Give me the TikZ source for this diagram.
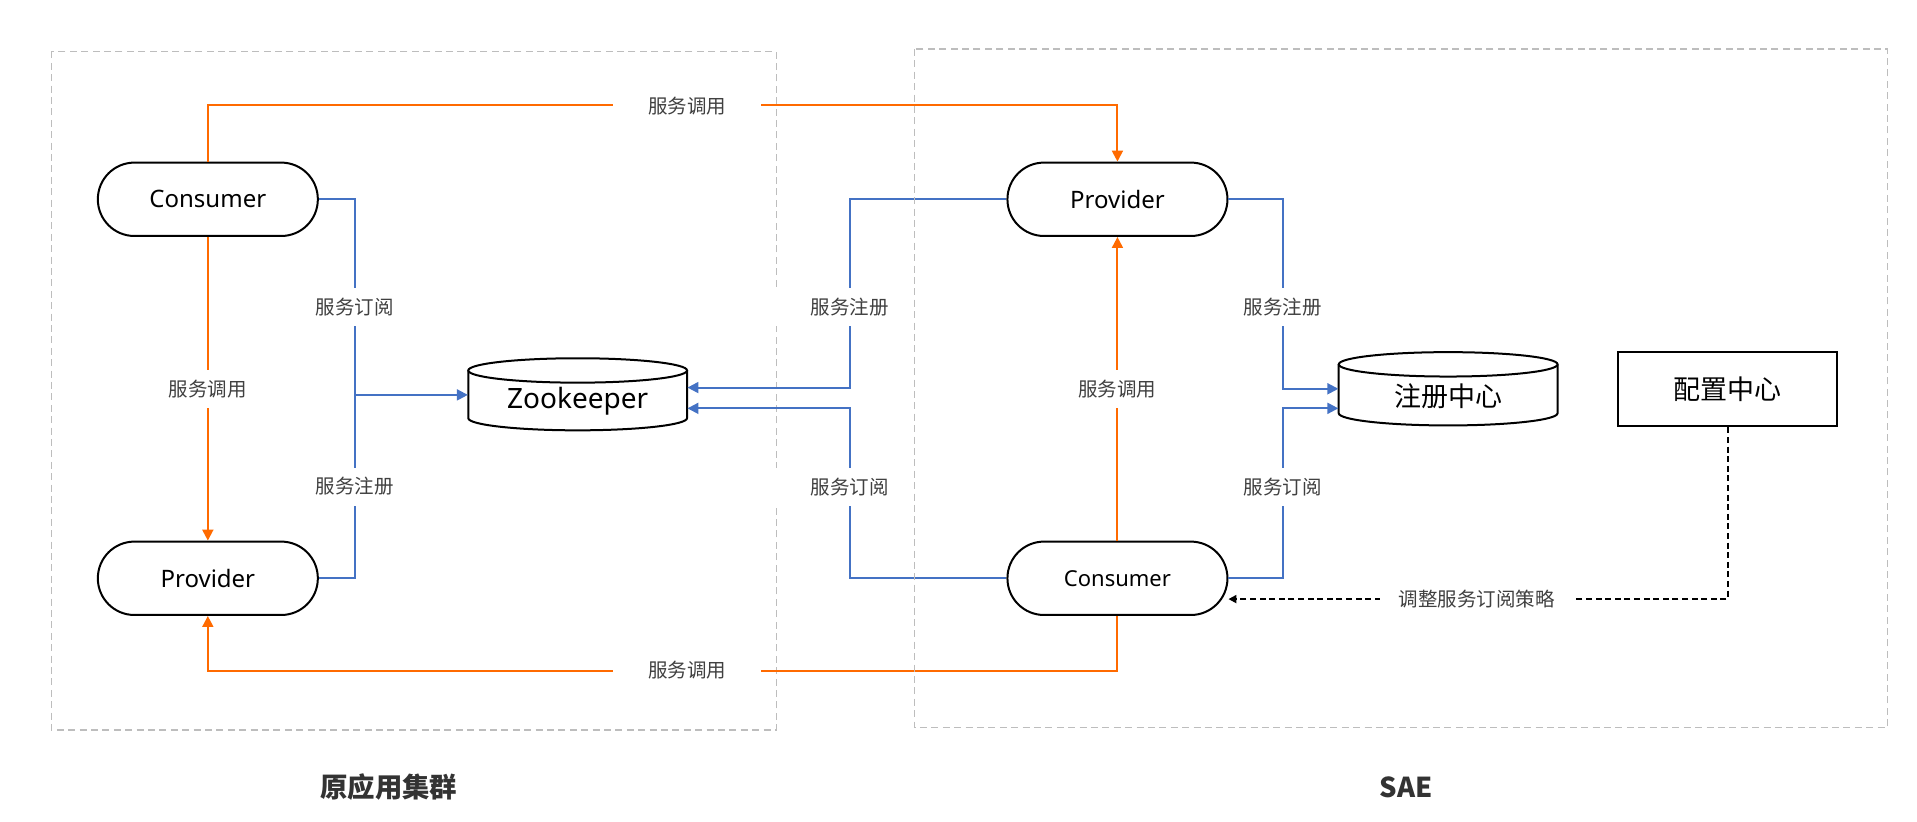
\documentclass[tikz,border=0pt]{standalone}
\usepackage{fontspec}
\setmainfont{Noto Sans}
\newfontfamily\cjk{Noto Sans CJK SC}
\usetikzlibrary{arrows.meta}
\definecolor{orng}{HTML}{FF6A00}
\definecolor{blu}{HTML}{4472C4}
\definecolor{boxgray}{HTML}{BDBDBD}
\definecolor{lbl}{HTML}{404040}
\definecolor{ttl}{HTML}{333333}
\begin{document}
\begin{tikzpicture}[x=0.6113pt,y=-0.6113pt,
  stadium/.style={draw=black, line width=1pt, fill=white, rounded corners=18.3pt,
    minimum width=110pt, minimum height=36.7pt, inner sep=0pt, font=\fontsize{12}{14}\selectfont},
  cylbody/.style={draw=black, line width=1pt, fill=white},
  cylnode/.style={minimum width=109.4pt, minimum height=36pt, inner sep=0pt},
  group/.style={draw=boxgray, line width=0.7pt, dash pattern=on 3.5pt off 2.2pt},
  orline/.style={draw=orng, line width=1pt},
  blline/.style={draw=blu, line width=1pt},
  tip/.style={-{Triangle[length=5.5pt,width=5.5pt]}},
  dshline/.style={draw=black, line width=1pt, dash pattern=on 3pt off 1.8pt},
  lab/.style={fill=white, text=lbl, font=\cjk\fontsize{9.75}{12}\selectfont, inner xsep=17.7pt, inner ysep=5pt},
  title/.style={text=ttl, font=\cjk\bfseries\fontsize{13.7}{16}\selectfont}
]
\useasboundingbox (0,0) rectangle (1568,672);

% left group box
\draw[group] (42,42) rectangle (635,597);

% cylinders
\fill[white] (383,303) rectangle (562,342);
\draw[cylbody] (383,303) -- (383,342) arc[start angle=180,end angle=360,x radius=54.7pt,y radius=6.1pt] -- (562,303);
\draw[cylbody] (472.5,303) ellipse[x radius=54.7pt,y radius=6.1pt];
\node[cylnode] (zk) at (472.5,322.5) {};
\node (zkt) at (472.5,328) {\fontsize{14}{16}\selectfont Zookeeper};

\fill[white] (1095,298) rectangle (1274,338);
\draw[cylbody] (1095,298) -- (1095,338) arc[start angle=180,end angle=360,x radius=54.7pt,y radius=6.1pt] -- (1274,298);
\draw[cylbody] (1184.5,298) ellipse[x radius=54.7pt,y radius=6.1pt];
\node[cylnode] (reg) at (1184.5,318) {};
\node (regt) at (1184.5,324) {\cjk\fontsize{13.5}{16}\selectfont 注册中心};

% nodes
\node[stadium] (cL) at (170,163) {Consumer};
\node[stadium] (pL) at (170,473) {Provider};
\node[stadium] (pR) at (914,163) {Provider};
\node[stadium, font=\fontsize{11}{13}\selectfont] (cR) at (914,473) {Consumer};
\node[draw=black, line width=1pt, minimum width=109.4pt, minimum height=37pt, inner sep=0pt,
  font=\cjk\fontsize{13.5}{16}\selectfont] (cfg) at (1413,318.5) {配置中心};

% orange connectors
\draw[orline,tip] (cL.north) -- ++(0,-46) -| (pR.north);
\draw[orline,tip] (cR.south) -- ++(0,45) -| (pL.south);
\draw[orline,tip] (cL.south) -- (pL.north);
\draw[orline,tip] (cR.north) -- (pR.south);

% blue connectors
\coordinate (jL) at (290,323);
\draw[blline] (cL.east) -| (jL);
\draw[blline] (pL.east) -| (jL);
\draw[blline,tip] (jL) -- (jL -| zk.west);

\coordinate (m1) at (695,317);
\coordinate (m2) at (695,334);
\draw[blline,tip] (pR.west) -| (m1) -- (m1 -| zk.east);
\draw[blline,tip] (cR.west) -| (m2) -- (m2 -| zk.east);

\coordinate (r1) at (1049,318);
\coordinate (r2) at (1049,334);
\draw[blline,tip] (pR.east) -| (r1) -- (r1 -| reg.west);
\draw[blline,tip] (cR.east) -| (r2) -- (r2 -| reg.west);

% dashed config connector
\coordinate (d1) at (1413,490);
\draw[dshline,-{Triangle[length=4pt,width=4pt]}] (cfg.south) -- (d1) -- (d1 -| cR.east);

% labels
\node[lab] (lt) at (562,87) {服务调用};
\node[lab] (lb) at (562,548) {服务调用};
\node[lab] (ll) at (170,318) {服务调用};
\node[lab] (lr) at (914,318) {服务调用};
\node[lab] (l1) at (290,251) {服务订阅};
\node[lab] (l2) at (290,398) {服务注册};
\node[lab] (l3) at (695,251) {服务注册};
\node[lab] (l4) at (695,398) {服务订阅};
\node[lab] (l5) at (1049,251) {服务注册};
\node[lab] (l6) at (1049,398) {服务订阅};
\node[lab, inner xsep=9.5pt] (l7) at (1208,490) {调整服务订阅策略};

% right group box (drawn after labels)
\draw[group] (748,40) rectangle (1544,595);

% titles
\node[title] (t1) at (318,644) {原应用集群};
\node[title] (t2) at (1150,644) {SAE};
\end{tikzpicture}
\end{document}
